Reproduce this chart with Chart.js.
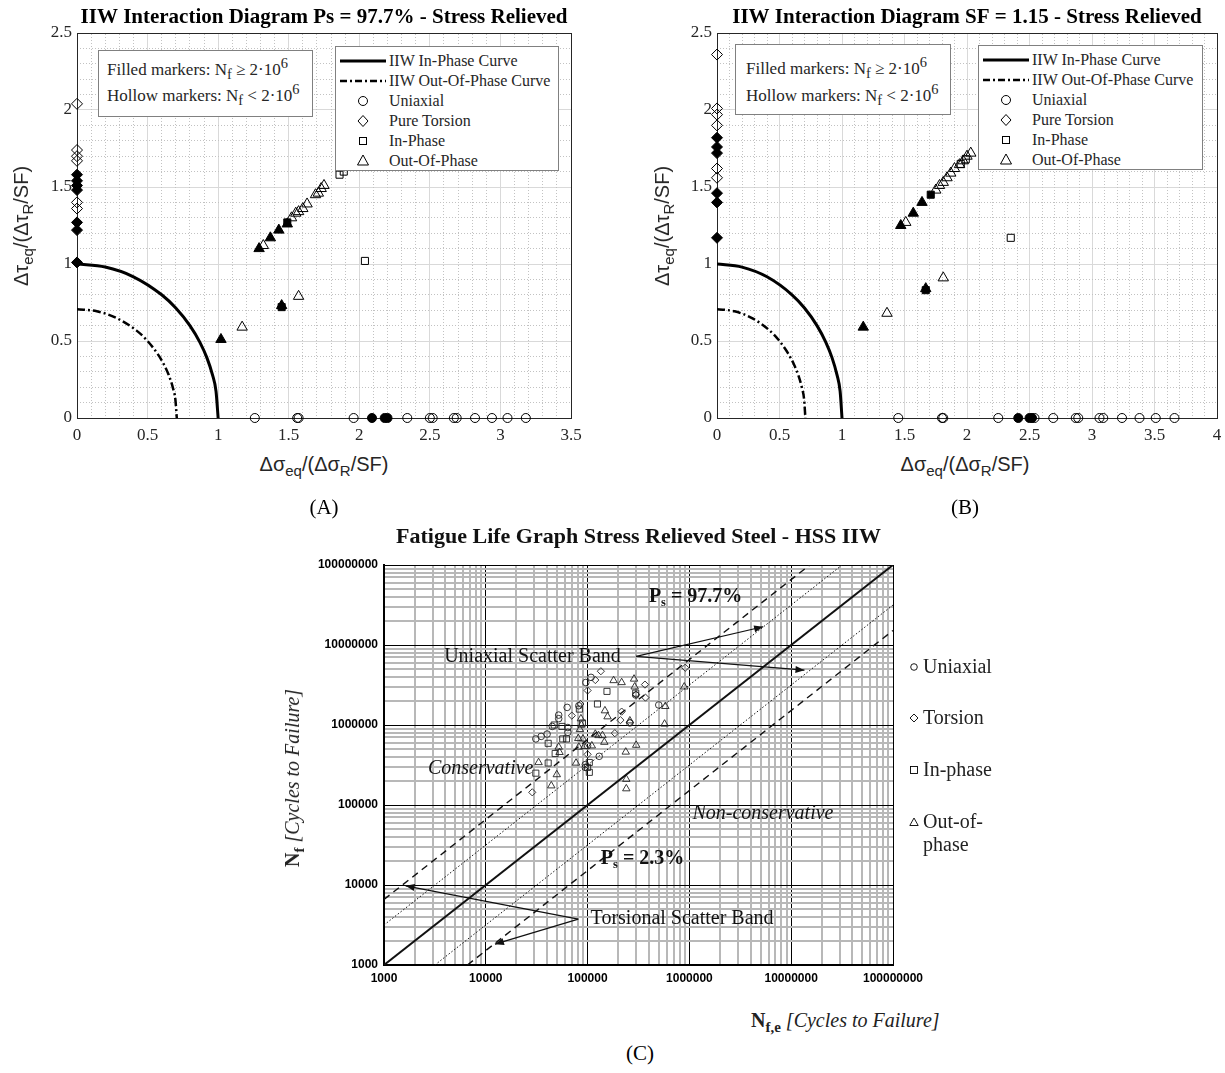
<!DOCTYPE html>
<html>
<head>
<meta charset="utf-8">
<title>IIW interaction diagrams - stress relieved</title>
<script src="https://cdn.jsdelivr.net/npm/chart.js@4.4.1/dist/chart.umd.min.js"></script>
<style>
  html, body { margin: 0; padding: 0; background: #fff; }
  body { position: relative; width: 1225px; height: 1073px; overflow: hidden; font-family: "Liberation Serif", serif; color: #000; }
  canvas { position: absolute; }
  .t { position: absolute; white-space: nowrap; line-height: 1; }
  .c { transform: translate(-50%, -50%); }
  .rot { transform: translate(-50%, -50%) rotate(-90deg); }
  .sans { font-family: "Liberation Sans", Arial, sans-serif; font-size: 20px; color: #262626; }
  .cap { font-size: 21px; }
  .box { position: absolute; background: #fff; border: 1px solid #808080; box-sizing: border-box; color: #262626; }
  .lt { position: absolute; white-space: nowrap; font-size: 16px; line-height: 16px; }
  .bt { position: absolute; white-space: nowrap; font-size: 17px; line-height: 18px; }
  .bt sub, .bt sup { font-size: 0.85em; }
  .leg { position: absolute; white-space: nowrap; font-size: 20px; line-height: 23px; color: #222; }
  sub, sup { font-size: 0.75em; line-height: 0; }
</style>
</head>
<body>
<canvas id="chartA" width="648" height="450" style="left:0;top:0"></canvas>
<canvas id="chartB" width="704" height="450" style="left:615px;top:0"></canvas>
<canvas id="chartC" width="717" height="485" style="left:280px;top:515px"></canvas>

<!-- (A) -->
<div class="t rot sans" style="left:21px;top:226px">Δτ<sub>eq</sub>/(Δτ<sub>R</sub>/SF)</div>
<div class="t c sans" style="left:324px;top:464px">Δσ<sub>eq</sub>/(Δσ<sub>R</sub>/SF)</div>
<div class="t c cap" style="left:324px;top:507px">(A)</div>
<div class="box" style="left:98px;top:50px;width:215px;height:67px">
  <div class="bt" style="left:8px;top:10px">Filled markers: N<sub>f</sub> ≥ 2·10<sup>6</sup></div>
  <div class="bt" style="left:8px;top:36px">Hollow markers: N<sub>f</sub> &lt; 2·10<sup>6</sup></div>
</div>
<div class="box" id="legA" style="left:335px;top:46px;width:224px;height:125px"></div>

<!-- (B) -->
<div class="t rot sans" style="left:662px;top:226px">Δτ<sub>eq</sub>/(Δτ<sub>R</sub>/SF)</div>
<div class="t c sans" style="left:965px;top:464px">Δσ<sub>eq</sub>/(Δσ<sub>R</sub>/SF)</div>
<div class="t c cap" style="left:965px;top:507px">(B)</div>
<div class="box" style="left:735px;top:44px;width:216px;height:71px">
  <div class="bt" style="left:10px;top:15px">Filled markers: N<sub>f</sub> ≥ 2·10<sup>6</sup></div>
  <div class="bt" style="left:10px;top:42px">Hollow markers: N<sub>f</sub> &lt; 2·10<sup>6</sup></div>
</div>
<div class="box" id="legB" style="left:978px;top:45px;width:225px;height:125px"></div>

<!-- (C) -->
<div class="t rot" style="left:292px;top:778px;font-size:20px;color:#222"><b>N<sub>f</sub></b> <i>[Cycles to Failure]</i></div>
<div class="t" style="left:751px;top:1010px;font-size:20px;color:#222"><b>N<sub>f,e</sub></b> <i>[Cycles to Failure]</i></div>
<div class="t c cap" style="left:640px;top:1053px">(C)</div>
<svg style="position:absolute;left:909px;top:662px" width="10" height="10"><circle cx="5" cy="5" r="3.3" fill="none" stroke="#000" stroke-width="0.9"/></svg>
<div class="leg" style="left:923px;top:655px">Uniaxial</div>
<svg style="position:absolute;left:909px;top:713px" width="10" height="10"><polygon points="5,1 9,5 5,9 1,5" fill="none" stroke="#000" stroke-width="0.9"/></svg>
<div class="leg" style="left:923px;top:706px">Torsion</div>
<svg style="position:absolute;left:909px;top:765px" width="10" height="10"><rect x="1.5" y="1.5" width="7" height="7" fill="none" stroke="#000" stroke-width="0.9"/></svg>
<div class="leg" style="left:923px;top:758px">In-phase</div>
<svg style="position:absolute;left:909px;top:817px" width="10" height="10"><polygon points="5,1 9.2,8.5 0.8,8.5" fill="none" stroke="#000" stroke-width="0.9"/></svg>
<div class="leg" style="left:923px;top:810px">Out-of-<br>phase</div>

<script>
// ---------- interaction diagram curves ----------
const curveX   = [0, 0.2, 0.4, 0.6, 0.7, 0.8, 0.87, 0.92, 0.96, 0.985, 1.0];
const inPhaseY = [1, 0.98, 0.917, 0.8, 0.714, 0.6, 0.493, 0.392, 0.28, 0.173, 0];
const oopX     = [0, 0.14, 0.28, 0.42, 0.49, 0.57, 0.615, 0.65, 0.68, 0.697, 0.707];
const oopY     = [0.707, 0.693, 0.649, 0.569, 0.51, 0.418, 0.349, 0.279, 0.194, 0.12, 0];

// ---------- (A) Ps = 97.7% ----------
const aUniHollowX = [1.26, 1.56, 1.57, 1.96, 2.34, 2.50, 2.52, 2.67, 2.69, 2.82, 2.94, 3.05, 3.18];
const aUniFilledX = [2.09, 2.18, 2.20];
const aTorHollowY = [2.04, 1.74, 1.70, 1.67, 1.40, 1.36];
const aTorFilledY = [1.58, 1.54, 1.51, 1.48, 1.27, 1.22, 1.01];
const aInHollow   = [[2.04, 1.02], [1.86, 1.58], [1.89, 1.60]];
const aInFilled   = [[1.45, 0.72], [1.49, 1.27]];
const aOutHollow  = [[1.17, 0.59], [1.57, 0.79], [1.32, 1.12], [1.52, 1.30], [1.55, 1.33], [1.57, 1.34],
                     [1.60, 1.36], [1.63, 1.39], [1.69, 1.45], [1.71, 1.46], [1.73, 1.49], [1.75, 1.51]];
const aOutFilled  = [[1.02, 0.51], [1.45, 0.73], [1.29, 1.10], [1.37, 1.17], [1.43, 1.22], [1.49, 1.26]];

// ---------- (B) SF = 1.15 ----------
const bUniHollowX = [1.45, 1.80, 1.81, 2.25, 2.54, 2.69, 2.87, 2.89, 3.06, 3.09, 3.24, 3.38, 3.51, 3.66];
const bUniFilledX = [2.41, 2.50, 2.52];
const bTorHollowY = [2.36, 2.01, 1.97, 1.90, 1.62, 1.56];
const bTorFilledY = [1.82, 1.76, 1.72, 1.46, 1.40, 1.17];
const bInHollow   = [[2.35, 1.17], [1.95, 1.65], [1.99, 1.68]];
const bInFilled   = [[1.67, 0.83], [1.71, 1.45]];
const bOutHollow  = [[1.36, 0.68], [1.81, 0.91], [1.51, 1.27], [1.75, 1.48], [1.78, 1.51], [1.81, 1.53], [1.84, 1.56],
                     [1.87, 1.59], [1.90, 1.62], [1.94, 1.645], [1.97, 1.67], [2.00, 1.70], [2.03, 1.72]];
const bOutFilled  = [[1.17, 0.59], [1.67, 0.84], [1.47, 1.25], [1.57, 1.33], [1.64, 1.40]];

const legendLabels = ['IIW In-Phase Curve', 'IIW Out-Of-Phase Curve', 'Uniaxial', 'Pure Torsion', 'In-Phase', 'Out-Of-Phase'];

// ---------- (C) fatigue life graph ----------
const cDecades    = [1000, 10000, 100000, 1000000, 10000000, 100000000];
const cTickLabels = ['1000', '10000', '100000', '1000000', '10000000', '100000000'];
const cMinorSteps = [2, 3, 4, 5, 6, 7, 8, 9];

const cSolid     = [[1000, 1000], [1e8, 1e8]];
const cDashUp    = [[1000, 6600], [1.52e7, 1e8]];
const cDashLo    = [[6600, 1000], [1e8, 1.52e7]];
const cDotUp     = [[1000, 3160], [3.16e7, 1e8]];
const cDotLo     = [[3160, 1000], [1e8, 3.16e7]];

const cUniaxial = [[1.08e5, 3.94e6], [9.6e4, 3.4e6], [6.3e4, 1.66e6], [8.2e4, 1.74e6], [5.2e4, 1.33e6], [5.2e4, 1.2e6],
                   [4.5e4, 9.6e5], [6.4e4, 9.3e5], [6.4e4, 8.1e5], [3.1e4, 6.7e5], [3.5e4, 7.2e5], [4.0e4, 7.7e5],
                   [1.0e5, 5.5e5], [9.5e4, 3.2e5], [9.5e4, 2.95e5], [1.3e5, 4.06e5], [2.6e5, 1.06e6], [2.97e5, 2.37e6], [5.0e5, 1.78e6]];
const cTorsion  = [[1.35e5, 4.7e6], [1.19e5, 3.65e6], [1.0e5, 2.7e6], [3.66e5, 3.2e6], [3.7e5, 2.2e6], [9.1e5, 5.2e6],
                   [2.16e5, 1.47e6], [2.1e5, 1.15e6], [2.6e5, 1.08e6], [1.85e5, 7.9e5], [8.5e4, 1.83e6], [7.0e4, 1.31e6],
                   [1.0e5, 4.3e5], [2.86e4, 1.44e5], [3.0e5, 2.4e6]];
const cInPhase  = [[1.55e5, 2.63e6], [2.97e5, 2.5e6], [1.25e5, 1.83e6], [8.3e4, 1.58e6], [5.6e4, 9.6e5], [4.7e4, 1.0e6],
                   [8.9e4, 1.06e6], [5.7e4, 6.7e5], [6.2e4, 6.7e5], [4.1e4, 5.9e5], [4.8e4, 4.4e5], [1.04e5, 3.4e5],
                   [1.04e5, 2.56e5], [1.0e5, 2.95e5], [4.1e4, 3.35e5], [3.1e4, 2.5e5]];
const cOutPhase = [[1.8e5, 3.6e6], [2.16e5, 3.4e6], [2.86e5, 3.76e6], [2.9e5, 3.0e6], [8.9e5, 3.0e6], [5.8e5, 1.71e6],
                   [5.7e5, 1.03e6], [1.48e5, 1.51e6], [1.57e5, 1.27e6], [2.6e5, 1.13e6], [2.37e5, 4.6e5], [3.0e5, 5.6e5],
                   [1.19e5, 7.7e5], [1.28e5, 7.4e5], [1.4e5, 7.4e5], [1.46e5, 6.1e5], [2.4e5, 2.1e5], [2.4e5, 1.6e5],
                   [8.6e4, 1.2e6], [8.7e4, 1.0e6], [8.4e4, 8.8e5], [5.2e4, 5.3e5], [5.3e4, 4.55e5], [8.1e4, 6.8e5],
                   [9.0e4, 6.7e5], [8.2e4, 5.3e5], [9.3e4, 5.4e5], [1.1e5, 5.5e5], [7.7e4, 3.35e5], [3.3e4, 3.4e5],
                   [4.98e4, 2.4e5], [4.4e4, 1.74e5]];

// annotations, anchored in data units
const cNotes = [
  { parts: [['P'], ['s', 'sub'], [' = 97.7%']], x: 4.0e5, y: 4.0e7, style: 'bold' },
  { parts: [['Uniaxial Scatter Band']], x: 3.9e3, y: 7.1e6, style: '' },
  { parts: [['Conservative']], x: 2.7e3, y: 2.8e5, style: 'italic' },
  { parts: [['Non-conservative']], x: 1.07e6, y: 7.8e4, style: 'italic' },
  { parts: [['P'], ['s', 'sub'], [' = 2.3%']], x: 1.35e5, y: 2.1e4, style: 'bold' },
  { parts: [['Torsional Scatter Band']], x: 1.07e5, y: 3.75e3, style: '' }
];
const cArrows = [
  [[3.0e5, 7.2e6], [5.3e6, 1.69e7]],
  [[3.0e5, 7.2e6], [1.35e7, 4.84e6]],
  [[8.1e4, 3750], [1630, 9770]],
  [[8.1e4, 3750], [12300, 1820]]
];

// ---------- helpers ----------
const pts = ps => ps.map(([x, y]) => ({ x, y }));
const zip = (xs, ys) => xs.map((x, i) => ({ x, y: ys[i] }));

function fillLegend(id) {
  const icons = [
    '<line x1="1" y1="8" x2="47" y2="8" stroke="#000" stroke-width="3"/>',
    '<line x1="1" y1="8" x2="47" y2="8" stroke="#000" stroke-width="2.5" stroke-dasharray="7,3,2,3"/>',
    '<circle cx="24" cy="8" r="4.5" fill="none" stroke="#000"/>',
    '<polygon points="24,2.5 29,8 24,13.5 19,8" fill="none" stroke="#000"/>',
    '<rect x="20.5" y="4.5" width="7" height="7" fill="none" stroke="#000"/>',
    '<polygon points="24,2 29.5,12 18.5,12" fill="none" stroke="#000"/>'
  ];
  document.getElementById(id).innerHTML = legendLabels.map((lab, i) => {
    const top = 6 + 20 * i;
    return `<svg style="position:absolute;left:3px;top:${top}px" width="48" height="16">${icons[i]}</svg>` +
           `<div class="lt" style="left:53px;top:${top}px">${lab}</div>`;
  }).join('');
}

function interactionChart(id, title, xMax, sideW, d) {
  const hollow = (data, style, r) => ({ data, pointStyle: style, pointRadius: r, pointHoverRadius: r,
    pointBackgroundColor: 'rgba(0,0,0,0)', pointBorderColor: '#000', pointBorderWidth: 1, clip: false });
  const filled = (data, style, r) => ({ ...hollow(data, style, r), pointBackgroundColor: '#000' });
  const onX = xs => xs.map(x => ({ x, y: 0 }));
  const onY = ys => ys.map(y => ({ x: 0, y }));

  const tickFont = { family: 'Liberation Serif', size: 17 };
  const fmt = v => String(+Number(v).toFixed(2));
  const border = { color: '#262626', width: 1 };
  const majorGrid = { color: '#d9d9d9', lineWidth: 1, drawTicks: false };
  const minorGrid = {
    color: c => (Math.round(c.tick.value * 10) % 5 === 0 ? 'rgba(0,0,0,0)' : '#c2c2c2'),
    lineWidth: 1, drawTicks: false
  };
  const minorBorder = { color: '#262626', width: 1, dash: c => (c.type === 'tick' ? [1, 2] : []) };

  return new Chart(document.getElementById(id), {
    type: 'scatter',
    data: {
      datasets: [
        { data: zip(curveX, inPhaseY), showLine: true, borderColor: '#000', borderWidth: 3, pointRadius: 0, cubicInterpolationMode: 'monotone' },
        { data: zip(oopX, oopY), showLine: true, borderColor: '#000', borderWidth: 2.5, borderDash: [8, 3, 2, 3], pointRadius: 0, cubicInterpolationMode: 'monotone' },
        hollow(onX(d.uniHollow), 'circle', 4.5),
        filled(onX(d.uniFilled), 'circle', 4.5),
        hollow(onY(d.torHollow), 'rectRot', 5.5),
        filled(onY(d.torFilled), 'rectRot', 5.5),
        hollow(pts(d.inHollow), 'rect', 5),
        filled(pts(d.inFilled), 'rect', 5),
        hollow(pts(d.outHollow), 'triangle', 6),
        filled(pts(d.outFilled), 'triangle', 6)
      ]
    },
    options: {
      responsive: false, animation: false, events: [],
      plugins: {
        legend: { display: false }, tooltip: { enabled: false },
        title: { display: true, text: title, color: '#000',
          font: { family: 'Liberation Serif', size: 21, weight: 'bold' }, padding: { top: 5.4, bottom: 2.4 } }
      },
      scales: {
        x: { type: 'linear', min: 0, max: xMax,
             ticks: { stepSize: 0.5, font: tickFont, color: '#262626', padding: 7, maxRotation: 0, callback: fmt },
             grid: majorGrid, border, afterFit: s => { s.height = 32; } },
        y: { type: 'linear', min: 0, max: 2.5,
             ticks: { stepSize: 0.5, font: tickFont, color: '#262626', padding: 5, callback: fmt },
             grid: majorGrid, border, afterFit: s => { s.width = sideW; } },
        x2: { type: 'linear', position: 'top', min: 0, max: xMax, ticks: { display: false, stepSize: 0.1 },
              grid: minorGrid, border: minorBorder, afterFit: s => { s.height = 0; } },
        y2: { type: 'linear', position: 'right', min: 0, max: 2.5, ticks: { display: false, stepSize: 0.1 },
              grid: minorGrid, border: minorBorder, afterFit: s => { s.width = sideW; } }
      }
    }
  });
}

function drawRich(ctx, parts, x, y, style) {
  const size = 20;
  let cx = x;
  parts.forEach(([t, kind]) => {
    const s = kind ? size * 0.62 : size;
    ctx.font = `${style} ${s}px "Liberation Serif"`;
    ctx.fillText(t, cx, kind === 'sub' ? y + size * 0.28 : y);
    cx += ctx.measureText(t).width;
  });
}

function arrow(ctx, x1, y1, x2, y2) {
  ctx.beginPath(); ctx.moveTo(x1, y1); ctx.lineTo(x2, y2); ctx.stroke();
  const a = Math.atan2(y2 - y1, x2 - x1), L = 9, W = 3.5;
  ctx.beginPath();
  ctx.moveTo(x2, y2);
  ctx.lineTo(x2 - L * Math.cos(a) + W * Math.sin(a), y2 - L * Math.sin(a) - W * Math.cos(a));
  ctx.lineTo(x2 - L * Math.cos(a) - W * Math.sin(a), y2 - L * Math.sin(a) + W * Math.cos(a));
  ctx.closePath(); ctx.fill();
}

const cNotesPlugin = {
  id: 'cNotes',
  afterDatasetsDraw(chart) {
    const { ctx, scales: { x, y } } = chart;
    ctx.save();
    ctx.fillStyle = '#111'; ctx.strokeStyle = '#111';
    ctx.textBaseline = 'middle'; ctx.textAlign = 'left';
    cNotes.forEach(n => drawRich(ctx, n.parts, x.getPixelForValue(n.x), y.getPixelForValue(n.y), n.style));
    ctx.lineWidth = 1.2;
    cArrows.forEach(([[x1, y1], [x2, y2]]) =>
      arrow(ctx, x.getPixelForValue(x1), y.getPixelForValue(y1), x.getPixelForValue(x2), y.getPixelForValue(y2)));
    ctx.restore();
  }
};

function fatigueChart() {
  const cGrid = cDecades.flatMap(d => [d, ...cMinorSteps.map(m => m * d)]).filter(v => v <= 1e8);
  const isDecade = v => cDecades.includes(v);
  const label = v => { const i = cDecades.indexOf(v); return i >= 0 ? cTickLabels[i] : ''; };
  const tickFont = { family: 'Liberation Sans', size: 12, weight: 'bold' };
  const grid = {
    color: c => (isDecade(c.tick.value) ? '#000' : '#b8b8b8'),
    lineWidth: c => (isDecade(c.tick.value) ? 1 : 2),
    drawTicks: false
  };
  const line = (data, width, dash) => ({ data: pts(data), showLine: true, borderColor: '#111', borderWidth: width,
    borderDash: dash, pointRadius: 0 });
  const marks = (data, style, r) => ({ data: pts(data), pointStyle: style, pointRadius: r, pointHoverRadius: r,
    pointBackgroundColor: 'rgba(0,0,0,0)', pointBorderColor: '#222', pointBorderWidth: 0.9 });

  return new Chart(document.getElementById('chartC'), {
    type: 'scatter',
    data: {
      datasets: [
        line(cSolid, 2, []),
        line(cDashUp, 1.4, [7, 5]),
        line(cDashLo, 1.4, [7, 5]),
        line(cDotUp, 1, [1.5, 2]),
        line(cDotLo, 1, [1.5, 2]),
        marks(cUniaxial, 'circle', 3.3),
        marks(cTorsion, 'rectRot', 3.6),
        marks(cInPhase, 'rect', 4.3),
        marks(cOutPhase, 'triangle', 4.3)
      ]
    },
    options: {
      responsive: false, animation: false, events: [],
      plugins: {
        legend: { display: false }, tooltip: { enabled: false },
        title: { display: true, text: 'Fatigue Life Graph Stress Relieved Steel - HSS IIW', color: '#111',
          font: { family: 'Liberation Serif', size: 22, weight: 'bold' }, padding: { top: 8.8, bottom: 14.8 } }
      },
      scales: {
        x: { type: 'logarithmic', min: 1000, max: 1e8,
             afterBuildTicks: s => { s.ticks = cGrid.map(value => ({ value })); },
             ticks: { autoSkip: false, maxRotation: 0, padding: 6, color: '#000', font: tickFont, callback: v => label(v) },
             grid, border: { color: '#000', width: 2 }, afterFit: s => { s.height = 35; } },
        y: { type: 'logarithmic', min: 1000, max: 1e8,
             afterBuildTicks: s => { s.ticks = cGrid.map(value => ({ value })); },
             ticks: { autoSkip: false, padding: 6, color: '#000', font: tickFont, callback: v => label(v) },
             grid, border: { color: '#000', width: 2 }, afterFit: s => { s.width = 104; } },
        y2: { type: 'linear', position: 'right', ticks: { display: false }, grid: { display: false },
              border: { display: false }, afterFit: s => { s.width = 104; } }
      }
    },
    plugins: [cNotesPlugin]
  });
}

fillLegend('legA');
fillLegend('legB');

interactionChart('chartA', 'IIW Interaction Diagram Ps = 97.7% - Stress Relieved', 3.5, 77, {
  uniHollow: aUniHollowX, uniFilled: aUniFilledX, torHollow: aTorHollowY, torFilled: aTorFilledY,
  inHollow: aInHollow, inFilled: aInFilled, outHollow: aOutHollow, outFilled: aOutFilled
});
interactionChart('chartB', 'IIW Interaction Diagram SF = 1.15 - Stress Relieved', 4, 102, {
  uniHollow: bUniHollowX, uniFilled: bUniFilledX, torHollow: bTorHollowY, torFilled: bTorFilledY,
  inHollow: bInHollow, inFilled: bInFilled, outHollow: bOutHollow, outFilled: bOutFilled
});
fatigueChart();
</script>
</body>
</html>
